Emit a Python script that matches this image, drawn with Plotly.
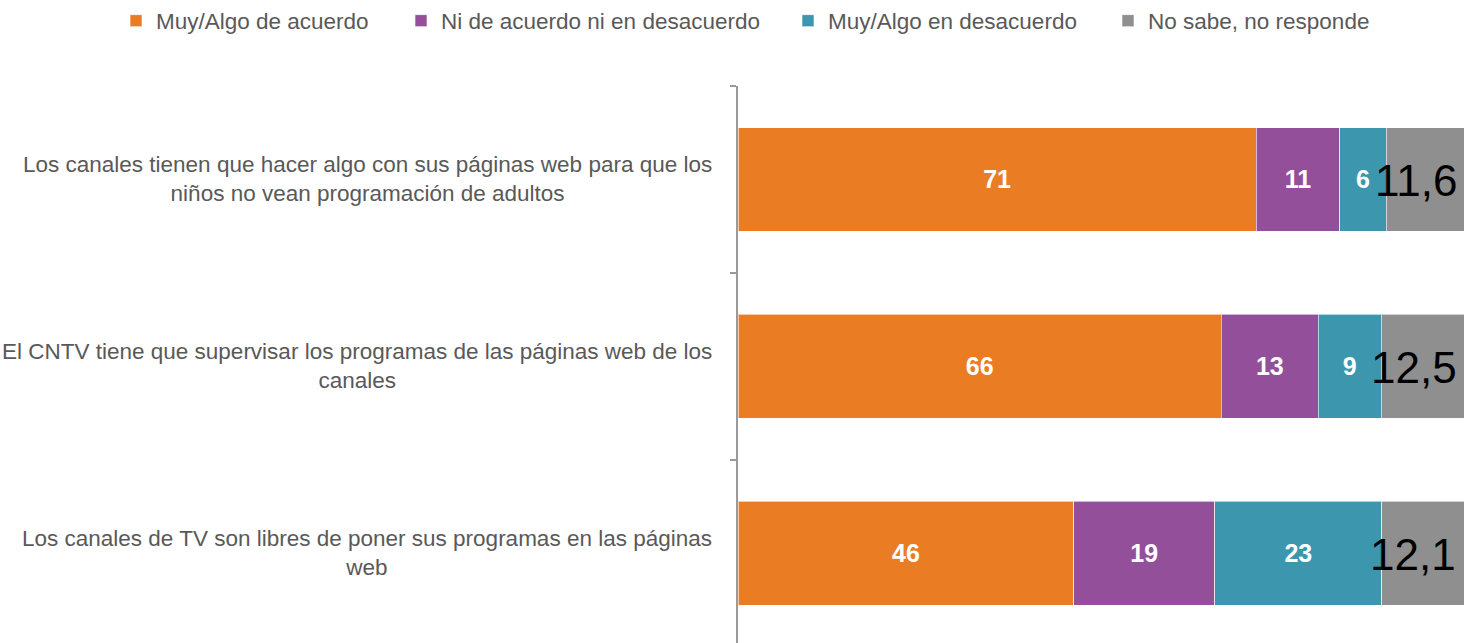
import plotly.graph_objects as go

# Survey statements (one bar per statement)
statements = [
    "Los canales tienen que hacer algo con sus páginas web para que los<br>niños no vean programación de adultos",
    "El CNTV tiene que supervisar los programas de las páginas web de los<br>canales",
    "Los canales de TV son libres de poner sus programas en las páginas<br>web",
]

# Percentages per answer
acuerdo = [71.0, 66.2, 46.0]
neutral = [11.4, 13.3, 19.3]
desacuerdo = [6.4, 8.6, 22.9]
nsnr = [11.6, 12.5, 12.1]

series_names = [
    "Muy/Algo de acuerdo",
    "Ni de acuerdo ni en desacuerdo",
    "Muy/Algo en desacuerdo",
    "No sabe, no responde",
]
colors = ["#EA7D24", "#944F9B", "#3C96AE", "#8F8F8F"]
legend_ids = ["legend", "legend2", "legend3", "legend4"]
legend_x_px = [116, 401, 788, 1108]

label_font = "Liberation Sans, Arial, sans-serif"
cats = list(range(len(statements)))

fig = go.Figure()
for k, (name, vals, col) in enumerate(zip(series_names[:3], [acuerdo, neutral, desacuerdo], colors[:3])):
    fig.add_trace(go.Bar(
        y=cats, x=vals, name=name, orientation="h", legend=legend_ids[k],
        marker=dict(color=col, line=dict(color="rgba(255,255,255,0.6)", width=1)),
        texttemplate="%{x:.0f}", textposition="inside", insidetextanchor="middle",
        textfont=dict(family=label_font, size=25, color="white", weight="bold"),
        constraintext="none",
    ))

fig.add_trace(go.Bar(
    y=cats, x=nsnr, name=series_names[3], orientation="h", legend=legend_ids[3],
    marker=dict(color=colors[3], line=dict(color="rgba(255,255,255,0.6)", width=1)),
    textposition="none",
))

annotations = []
# Large value labels on the "No sabe" segment
for i, v in enumerate(nsnr):
    start = acuerdo[i] + neutral[i] + desacuerdo[i]
    annotations.append(dict(
        x=start + v / 2, y=i, xref="x", yref="y", xshift=-13, yshift=-1,
        text=f"{v:.1f}".replace(".", ","), showarrow=False,
        font=dict(family=label_font, size=44, color="black"),
    ))

# Centered multi-line category labels
for i, s in enumerate(statements):
    annotations.append(dict(
        x=-0.033, y=i, xref="paper", yref="y", xanchor="right", yanchor="middle",
        text=s, showarrow=False, align="center",
        font=dict(family=label_font, size=22.5, color="#595959"),
    ))

legend_style = dict(
    orientation="h", xref="container", yref="container",
    xanchor="left", y=1.0 - 21 / 643, yanchor="middle",
    font=dict(family=label_font, size=22.5, color="#595959"),
    bgcolor="rgba(0,0,0,0)",
)
legends = {lid: dict(legend_style, x=px / 1464) for lid, px in zip(legend_ids, legend_x_px)}

fig.update_layout(
    barmode="stack",
    bargap=0.444,
    width=1464, height=643,
    margin=dict(l=738, r=0, t=86, b=0, autoexpand=False),
    plot_bgcolor="white", paper_bgcolor="white",
    annotations=annotations,
    showlegend=True,
    **legends,
    xaxis=dict(range=[0, 99.45], visible=False, fixedrange=True),
    yaxis=dict(
        type="linear", range=[2.479, -0.5],
        showticklabels=False, showgrid=False, zeroline=False,
        tickmode="array", tickvals=[-0.5, 0.5, 1.5, 2.5],
        ticks="outside", ticklen=6, tickcolor="#9A9A9A", tickwidth=1.5,
        showline=True, linecolor="#9A9A9A", linewidth=1.5,
    ),
)

fig.write_html("out.html")
